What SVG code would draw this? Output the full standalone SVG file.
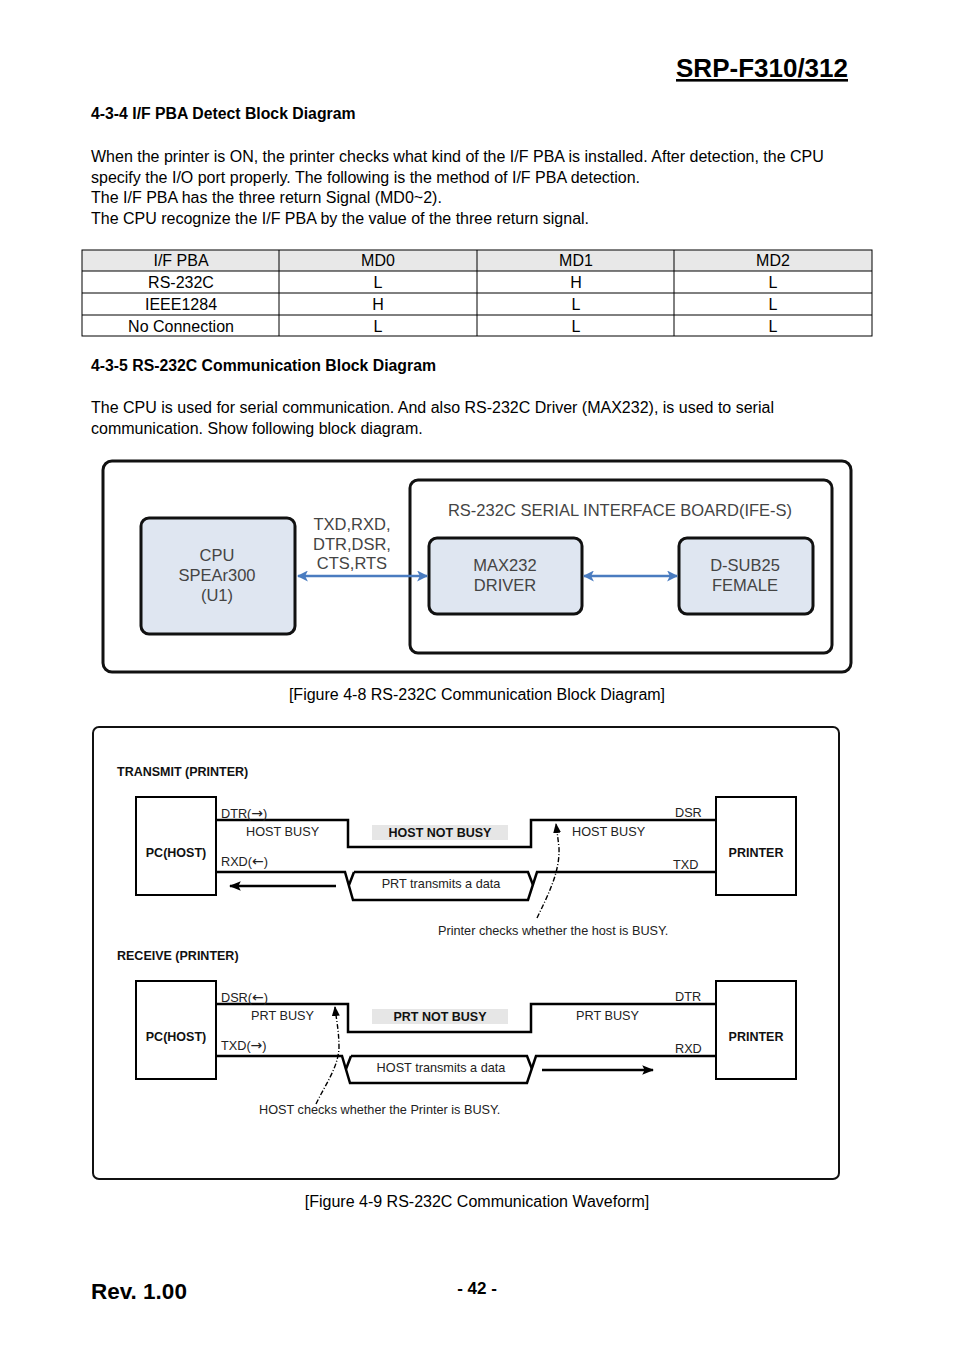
<svg xmlns="http://www.w3.org/2000/svg" width="954" height="1350" viewBox="0 0 954 1350">
<style>
text{font-family:"Liberation Sans",Arial,sans-serif;fill:#000}
.h{font-weight:bold;font-size:15.8px}
.p{font-size:16px}
.tc{font-size:16px;text-anchor:middle}
.cap{font-size:16px;text-anchor:middle}
.bd{font-size:16.5px;fill:#444;text-anchor:middle}
.box{fill:#dfe6f1;stroke:#111;stroke-width:3}
.frame{fill:none;stroke:#111;stroke-width:3}
.blue{stroke:#4a7cc0;stroke-width:2.5;fill:none}
.w{font-size:12.7px;fill:#222}
.ar{font-family:"DejaVu Sans",sans-serif;font-size:14px}
.wb{font-size:12.5px;font-weight:bold;fill:#111}
.sig{fill:none;stroke:#000;stroke-width:2.5}
.wbox{fill:#fff;stroke:#000;stroke-width:2}
.gray{fill:#e6e6e6}
.dash{fill:none;stroke:#000;stroke-width:1.4;stroke-dasharray:5 2 1 2}
</style>
<defs>
<marker id="ab" viewBox="0 0 10 10" refX="9" refY="5" markerWidth="11" markerHeight="11" markerUnits="userSpaceOnUse" orient="auto-start-reverse"><path d="M0,0 L10,5 L0,10 L2.5,5 z" fill="#4a7cc0"/></marker>
<marker id="ak" viewBox="0 0 10 10" refX="9" refY="5" markerWidth="12" markerHeight="12" markerUnits="userSpaceOnUse" orient="auto"><path d="M0,1 L10,5 L0,9 L2,5 z" fill="#000"/></marker>
<marker id="akd" viewBox="0 0 10 10" refX="9" refY="5" markerWidth="10" markerHeight="10" markerUnits="userSpaceOnUse" orient="auto"><path d="M0,1 L10,5 L0,9 z" fill="#000"/></marker>
</defs>

<g id="header">
<text x="848" y="77" font-size="26" font-weight="bold" text-anchor="end" text-decoration="underline">SRP-F310/312</text>
</g>

<g id="sec434">
<text class="h" x="91" y="119">4-3-4 I/F PBA Detect Block Diagram</text>
<text class="p" x="91" y="162">When the printer is ON, the printer checks what kind of the I/F PBA is installed. After detection, the CPU</text>
<text class="p" x="91" y="183">specify the I/O port properly. The following is the method of I/F PBA detection.</text>
<text class="p" x="91" y="203">The I/F PBA has the three return Signal (MD0~2).</text>
<text class="p" x="91" y="224">The CPU recognize the I/F PBA by the value of the three return signal.</text>
</g>

<g id="table">
<rect x="82" y="250" width="790" height="21" fill="#e8e8e8"/>
<rect x="82" y="250" width="790" height="86" fill="none" stroke="#000" stroke-width="1"/>
<path d="M82,271H872M82,293H872M82,315H872M279,250V336M477,250V336M674,250V336" stroke="#000" stroke-width="1" fill="none"/>
<text class="tc" x="181" y="266">I/F PBA</text><text class="tc" x="378" y="266">MD0</text><text class="tc" x="576" y="266">MD1</text><text class="tc" x="773" y="266">MD2</text>
<text class="tc" x="181" y="288">RS-232C</text><text class="tc" x="378" y="288">L</text><text class="tc" x="576" y="288">H</text><text class="tc" x="773" y="288">L</text>
<text class="tc" x="181" y="310">IEEE1284</text><text class="tc" x="378" y="310">H</text><text class="tc" x="576" y="310">L</text><text class="tc" x="773" y="310">L</text>
<text class="tc" x="181" y="332">No Connection</text><text class="tc" x="378" y="332">L</text><text class="tc" x="576" y="332">L</text><text class="tc" x="773" y="332">L</text>
</g>

<g id="sec435">
<text class="h" x="91" y="371">4-3-5 RS-232C Communication Block Diagram</text>
<text class="p" x="91" y="413">The CPU is used for serial communication. And also RS-232C Driver (MAX232), is used to serial</text>
<text class="p" x="91" y="434">communication. Show following block diagram.</text>
</g>

<g id="block-diagram">
<rect class="frame" x="103" y="461" width="748" height="211" rx="9"/>
<g id="board">
<rect class="frame" x="410" y="480" width="422" height="173" rx="8"/>
<text x="620" y="516" font-size="16.5" text-anchor="middle" style="fill:#444">RS-232C SERIAL INTERFACE BOARD(IFE-S)</text>
</g>
<g id="cpu">
<rect class="box" x="141" y="518" width="154" height="116" rx="8"/>
<text class="bd" x="217" y="561">CPU</text>
<text class="bd" x="217" y="581">SPEAr300</text>
<text class="bd" x="217" y="601">(U1)</text>
</g>
<g id="max232">
<rect class="box" x="429" y="538" width="153" height="76" rx="8"/>
<text class="bd" x="505" y="571">MAX232</text>
<text class="bd" x="505" y="591">DRIVER</text>
</g>
<g id="dsub25">
<rect class="box" x="679" y="538" width="134" height="76" rx="8"/>
<text class="bd" x="745" y="571">D-SUB25</text>
<text class="bd" x="745" y="591">FEMALE</text>
</g>
<g id="connectors-block">
<line class="blue" x1="298" y1="576" x2="427" y2="576" marker-start="url(#ab)" marker-end="url(#ab)"/>
<line class="blue" x1="584" y1="576" x2="677" y2="576" marker-start="url(#ab)" marker-end="url(#ab)"/>
<text class="bd" x="352" y="530">TXD,RXD,</text>
<text class="bd" x="352" y="550">DTR,DSR,</text>
<text class="bd" x="352" y="569">CTS,RTS</text>
</g>
</g>
<text class="cap" x="477" y="700">[Figure 4-8 RS-232C Communication Block Diagram]</text>

<g id="waveform">
<rect x="93" y="727" width="746" height="452" rx="6" fill="none" stroke="#111" stroke-width="2"/>

<g id="transmit">
<text class="wb" x="117" y="776">TRANSMIT (PRINTER)</text>
<g id="t-host"><rect class="wbox" x="136" y="797" width="80" height="98"/><text class="wb" x="176" y="857" text-anchor="middle">PC(HOST)</text></g>
<g id="t-printer"><rect class="wbox" x="716" y="797" width="80" height="98"/><text class="wb" x="756" y="857" text-anchor="middle">PRINTER</text></g>
<g id="t-signals">
<path class="sig" d="M216,820H348V847H531V820H716"/>
<path class="sig" d="M216,872H345L353,900H528L537,872H716"/>
<path class="sig" d="M354,872L349,885M354,872H528L533,885"/>
<line x1="336" y1="886" x2="230" y2="886" stroke="#000" stroke-width="2.5" marker-end="url(#ak)"/>
<path class="dash" d="M537,918C548,895 560,872 559,848C558,838 557,832 556,824" marker-end="url(#akd)"/>
</g>
<rect class="gray" x="372" y="825" width="136" height="15"/>
<text class="wb" x="440" y="837" text-anchor="middle">HOST NOT BUSY</text>
<text class="w" x="221" y="818">DTR(<tspan class="ar">→</tspan>)</text>
<text class="w" x="246" y="836">HOST BUSY</text>
<text class="w" x="572" y="836">HOST BUSY</text>
<text class="w" x="675" y="817">DSR</text>
<text class="w" x="221" y="866">RXD(<tspan class="ar">←</tspan>)</text>
<text class="w" x="673" y="869">TXD</text>
<text class="w" x="441" y="888" text-anchor="middle">PRT transmits a data</text>
<text class="w" x="438" y="935">Printer checks whether the host is BUSY.</text>
</g>

<g id="receive">
<text class="wb" x="117" y="960">RECEIVE (PRINTER)</text>
<g id="r-host"><rect class="wbox" x="136" y="981" width="80" height="98"/><text class="wb" x="176" y="1041" text-anchor="middle">PC(HOST)</text></g>
<g id="r-printer"><rect class="wbox" x="716" y="981" width="80" height="98"/><text class="wb" x="756" y="1041" text-anchor="middle">PRINTER</text></g>
<g id="r-signals">
<path class="sig" d="M216,1004H348V1032H531V1004H716"/>
<path class="sig" d="M216,1056H342L350,1083H527L536,1056H716"/>
<path class="sig" d="M351,1056L346,1069M351,1056H527L532,1069"/>
<line x1="542" y1="1070" x2="653" y2="1070" stroke="#000" stroke-width="2.5" marker-end="url(#ak)"/>
<path class="dash" d="M316,1104C325,1085 338,1068 339,1048C339,1030 336,1018 335,1007" marker-end="url(#akd)"/>
</g>
<rect class="gray" x="372" y="1009" width="136" height="15"/>
<text class="wb" x="440" y="1021" text-anchor="middle">PRT NOT BUSY</text>
<text class="w" x="221" y="1002">DSR(<tspan class="ar">←</tspan>)</text>
<text class="w" x="251" y="1020">PRT BUSY</text>
<text class="w" x="576" y="1020">PRT BUSY</text>
<text class="w" x="675" y="1001">DTR</text>
<text class="w" x="221" y="1050">TXD(<tspan class="ar">→</tspan>)</text>
<text class="w" x="675" y="1053">RXD</text>
<text class="w" x="441" y="1072" text-anchor="middle">HOST transmits a data</text>
<text class="w" x="259" y="1114">HOST checks whether the Printer is BUSY.</text>
</g>
</g>
<text class="cap" x="477" y="1207">[Figure 4-9 RS-232C Communication Waveform]</text>

<g id="footer">
<text x="91" y="1299" font-size="22.5" font-weight="bold">Rev. 1.00</text>
<text x="477" y="1294" font-size="17" font-weight="bold" text-anchor="middle">- 42 -</text>
</g>
</svg>
